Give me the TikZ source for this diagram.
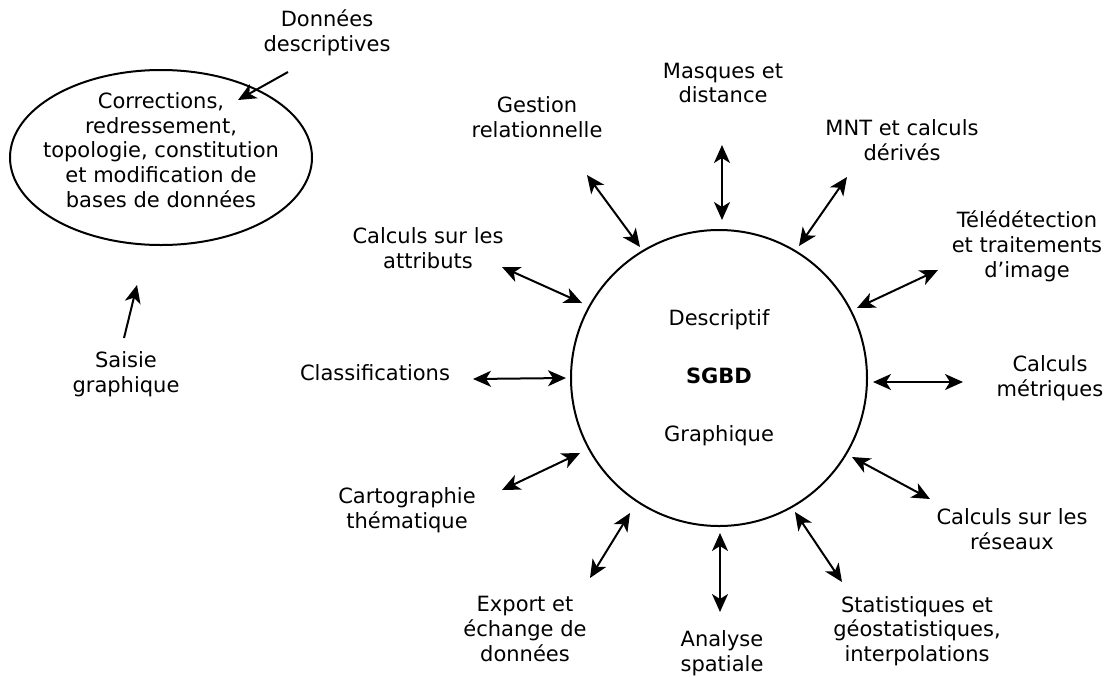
\documentclass[tikz,border=0pt]{standalone}
\usepackage{fontspec}
\setmainfont{DejaVu Sans}
\usepackage{tikz}
\usetikzlibrary{shapes.geometric}
\usetikzlibrary{arrows.meta}

\tikzset{
	lbl/.style={align=center, inner sep=0pt, font=\fontsize{10.5}{12.4}\selectfont},
	dbl/.style={{Stealth[length=9pt,width=8pt,inset=2.5pt]}-{Stealth[length=9pt,width=8pt,inset=2.5pt]}, line width=1pt},
	sgl/.style={-{Stealth[length=9pt,width=8pt,inset=2.5pt]}, line width=1pt}
}

\begin{document}
\begin{tikzpicture}[x=0.5pt, y=-0.5pt]
	\useasboundingbox (0,0) rectangle (1115,676);
	
	\node[
	draw,
	circle,
	line width=1pt,
	minimum size=148pt,
	inner sep=0pt,
	font=\fontsize{10.5}{12.4}\selectfont,
	align=center
	] (SGBD) at (719,378) {Descriptif\\[16.6pt]\textbf{SGBD}\\[16.6pt]Graphique};
	
	% ---
	
	\node[
	draw,
	ellipse,
	line width=1pt,
	minimum width=151pt,
	minimum height=87.5pt
	] (Base) at (161,157.5) {};
	
	\node[lbl] (Base-txt) at (161,150) {Corrections,\\redressement,\\topologie, constitution\\et modification de\\bases de données};
	
	\node[lbl] (Donnees) at (327,33) {Données\\descriptives};
	\node[lbl] (Saisie) at (126,374) {Saisie\\graphique};
	
	\coordinate (Donnees-a) at (288,72);
	\coordinate (Donnees-b) at (238,100);
	\coordinate (Saisie-a) at (124,338);
	\coordinate (Saisie-b) at (137,285);
	
	\draw[sgl] (Donnees-a) -- (Donnees-b);
	\draw[sgl] (Saisie-a) -- (Saisie-b);
	
	% ---
	
	\node[lbl] (Masques) at (723,83) {Masques et\\distance};
	\node[lbl] (MNT) at (902,140) {MNT et calculs\\dérivés};
	\node[lbl] (Teledet) at (1027,246) {Télédétection\\et traitements\\d’image};
	\node[lbl] (Metriques) at (1050,378) {Calculs\\métriques};
	\node[lbl] (Reseaux) at (1012,529) {Calculs sur les\\réseaux};
	\node[lbl] (Stats) at (917,631) {Statistiques et\\géostatistiques,\\interpolations};
	\node[lbl] (Analyse) at (722,653) {Analyse\\spatiale};
	\node[lbl] (Export) at (525,629) {Export et\\échange de\\données};
	\node[lbl] (Carto) at (407,510) {Cartographie\\thématique};
	\node[lbl] (Classif) at (375,373) {Classifications};
	\node[lbl] (Attributs) at (428,248) {Calculs sur les\\attributs};
	\node[lbl] (Gestion) at (537,117) {Gestion\\relationnelle};
	
	% ---
	
	\coordinate (Masques-a) at (722,145);
	\coordinate (Masques-b) at (722,220);
	\coordinate (MNT-a) at (847,177);
	\coordinate (MNT-b) at (799,246);
	\coordinate (Teledet-a) at (938,270);
	\coordinate (Teledet-b) at (857,308);
	\coordinate (Metriques-a) at (963,382);
	\coordinate (Metriques-b) at (873,382);
	\coordinate (Reseaux-a) at (930,499);
	\coordinate (Reseaux-b) at (852,457);
	\coordinate (Stats-a) at (842,582);
	\coordinate (Stats-b) at (795,512);
	\coordinate (Analyse-a) at (720,612);
	\coordinate (Analyse-b) at (720,533);
	\coordinate (Export-a) at (590,578);
	\coordinate (Export-b) at (630,513);
	\coordinate (Carto-a) at (502,490);
	\coordinate (Carto-b) at (580,453);
	\coordinate (Classif-a) at (473,379);
	\coordinate (Classif-b) at (566,378);
	\coordinate (Attributs-a) at (502,267);
	\coordinate (Attributs-b) at (582,303);
	\coordinate (Gestion-a) at (587,175);
	\coordinate (Gestion-b) at (640,247);
	
	\foreach \n in {Masques, MNT, Teledet, Metriques, Reseaux, Stats, Analyse, Export, Carto, Classif, Attributs, Gestion}
	\draw[dbl] (\n-a) -- (\n-b);
\end{tikzpicture}
\end{document}
